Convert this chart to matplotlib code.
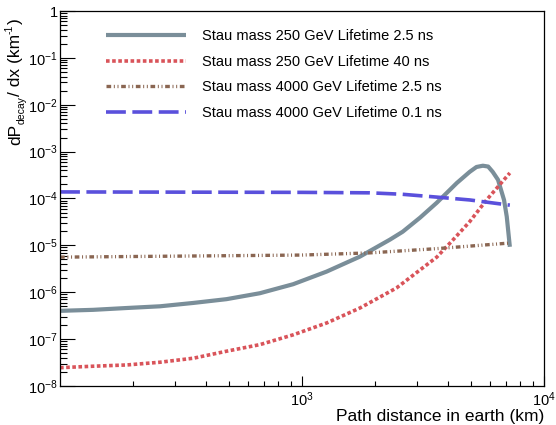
import numpy as np
import matplotlib
matplotlib.use("Agg")
import matplotlib.pyplot as plt
from matplotlib.ticker import LogLocator, FuncFormatter, NullFormatter, FixedLocator
from matplotlib.transforms import IdentityTransform

plt.rcParams['font.family'] = ['Liberation Sans', 'DejaVu Sans']
plt.rcParams['mathtext.fontset'] = 'custom'
plt.rcParams['mathtext.rm'] = 'Liberation Sans'
plt.rcParams['mathtext.it'] = 'Liberation Sans:italic'

# values (x in km)
x_m250_t25 = [100, 137, 189, 259, 356, 488, 670, 920, 1265, 1738, 2310, 2610, 3080, 3610,
              4370, 4940, 5270, 5600, 5890, 6150, 6470, 6850, 7030, 7240]
y_m250_t25 = [4.0e-7, 4.2e-7, 4.6e-7, 5.0e-7, 5.9e-7, 7.1e-7, 9.5e-7, 1.48e-6, 2.75e-6, 5.75e-6,
              1.32e-5, 1.95e-5, 3.9e-5, 8.1e-5, 2.14e-4, 3.7e-4, 4.7e-4, 5.0e-4, 4.8e-4, 3.7e-4,
              2.5e-4, 9.3e-5, 4.1e-5, 9.3e-6]

x_m250_t40 = [100, 137, 189, 259, 356, 488, 670, 920, 1265, 1738, 2460, 3610, 4210, 4940, 5800, 7240]
y_m250_t40 = [2.45e-8, 2.63e-8, 2.8e-8, 3.2e-8, 3.9e-8, 5.5e-8, 7.6e-8, 1.23e-7, 2.2e-7, 4.6e-7,
              1.23e-6, 5.6e-6, 1.3e-5, 3.2e-5, 9.3e-5, 3.5e-4]

x_m4000_t25 = [100, 1000, 1910, 3610, 7240]
y_m4000_t25 = [5.6e-6, 6.2e-6, 6.9e-6, 8.5e-6, 1.12e-5]

x_m4000_t01 = [100, 1000, 1910, 2600, 3610, 4940, 7240]
y_m4000_t01 = [1.38e-4, 1.35e-4, 1.32e-4, 1.23e-4, 1.07e-4, 9.3e-5, 7.2e-5]

labels = ["Stau mass 250 GeV Lifetime 2.5 ns",
          "Stau mass 250 GeV Lifetime 40 ns",
          "Stau mass 4000 GeV Lifetime 2.5 ns",
          "Stau mass 4000 GeV Lifetime 0.1 ns"]

x_major = [1e3, 1e4]

fig = plt.figure(figsize=(5.56, 4.25), dpi=100)
ax = fig.add_axes([0.108, 0.092, 0.870, 0.882])

ax.plot(x_m250_t25, y_m250_t25, color='#7a8e99', lw=3.0, solid_capstyle='butt',
        solid_joinstyle='round', label=labels[0])
ax.plot(x_m250_t40, y_m250_t40, color='#d9545a', lw=2.6, dashes=(1.0, 0.7), label=labels[1])
ax.plot(x_m4000_t25, y_m4000_t25, color='#8a6652', lw=2.4,
        dashes=(1.4, 0.8, 0.3, 0.8, 0.3, 0.8), label=labels[2])
ax.plot(x_m4000_t01, y_m4000_t01, color='#5a50dc', lw=2.6, dashes=(5.5, 1.8), label=labels[3])

ax.set_xscale('log')
ax.set_yscale('log')
ax.set_xlim(100, 1e4)
ax.set_ylim(1e-8, 1)

def fmt(v, pos):
    e = int(round(np.log10(v)))
    if e == 0:
        return '1'
    return r'$\mathregular{10^{%d}}$' % e

ax.xaxis.set_major_locator(FixedLocator(x_major))
ax.yaxis.set_major_locator(LogLocator(base=10, numticks=12))
ax.xaxis.set_minor_locator(LogLocator(base=10, subs=np.arange(2, 10), numticks=20))
ax.yaxis.set_minor_locator(LogLocator(base=10, subs=np.arange(2, 10), numticks=20))
ax.xaxis.set_major_formatter(FuncFormatter(fmt))
ax.yaxis.set_major_formatter(FuncFormatter(fmt))
ax.xaxis.set_minor_formatter(NullFormatter())
ax.yaxis.set_minor_formatter(NullFormatter())

ax.tick_params(axis='both', which='both', direction='in', top=False, right=False,
               width=0.8, labelsize=10.5)
ax.tick_params(axis='y', which='major', length=10.5, pad=1.5)
ax.tick_params(axis='y', which='minor', length=5)
ax.tick_params(axis='x', which='major', length=7, pad=3)
ax.tick_params(axis='x', which='minor', length=3.5)
for s in ax.spines.values():
    s.set_linewidth(0.9)

ax.set_xlabel('Path distance in earth (km)', fontsize=12.5, loc='right', labelpad=0)

# y title in pieces so the sub/superscripts stay small like the reference
ytitle = [("dP", 12.5, 0), ("decay", 7.5, 5), ("/ dx (km", 12.5, 0), ("-1", 7.5, -7), (")", 12.5, 0)]
renderer = fig.canvas.get_renderer()
ypos = 280
for txt, size, shift in ytitle:
    t = fig.text(20 + shift, ypos, txt, rotation=90, rotation_mode='anchor', ha='left',
                 va='baseline', fontsize=size, transform=IdentityTransform())
    ypos += t.get_window_extent(renderer).height

ax.legend(loc='upper left', bbox_to_anchor=(0.095, 0.952), frameon=False, fontsize=10.5,
          handlelength=5.5, handletextpad=1.1, labelspacing=0.8, borderpad=0, borderaxespad=0)

fig.savefig('out.png', dpi=100)
